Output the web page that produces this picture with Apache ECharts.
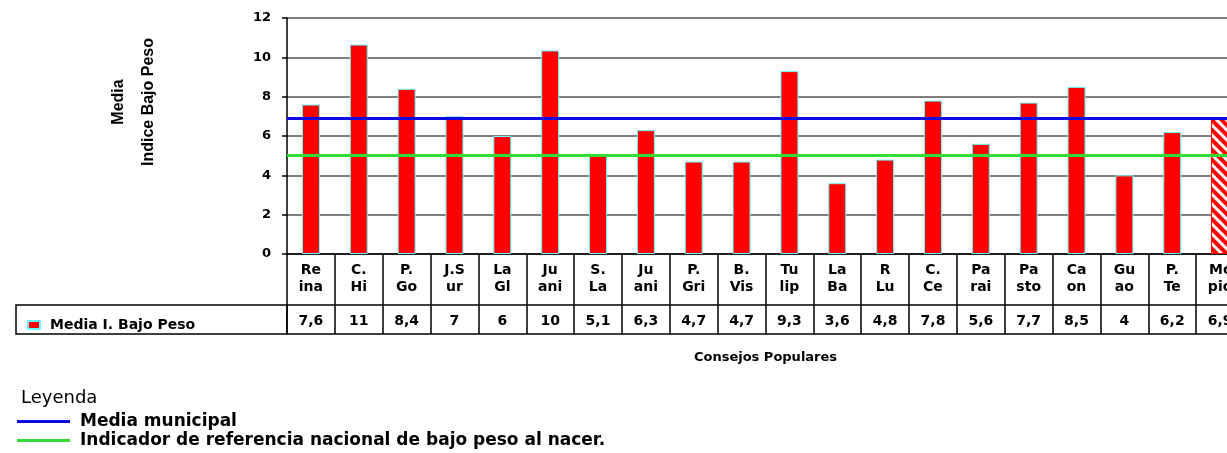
<!DOCTYPE html>
<html>
<head>
<meta charset="utf-8">
<script src="https://cdn.jsdelivr.net/npm/echarts@6/dist/echarts.min.js"></script>
<style>
  html, body { margin: 0; padding: 0; background: #fff; }
  #main { width: 1227px; height: 453px; }
</style>
</head>
<body>
<div id="main"></div>
<script>
// consejos populares (etiquetas partidas como en la tabla)
const categorias = ['Re\nina', 'C.\nHi', 'P.\nGo', 'J.S\nur', 'La\nGl', 'Ju\nani', 'S.\nLa', 'Ju\nani', 'P.\nGri', 'B.\nVis',
  'Tu\nlip', 'La\nBa', 'R\nLu', 'C.\nCe', 'Pa\nrai', 'Pa\nsto', 'Ca\non', 'Gu\nao', 'P.\nTe', 'Mc\npio'];
// altura de las barras
const mediaBajoPeso = [7.6, 10.65, 8.4, 7.0, 6.0, 10.35, 5.0, 6.3, 4.7, 4.7, 9.3, 3.6, 4.8, 7.8, 5.6, 7.7, 8.5, 4.0, 6.2, 6.9];
// valores que se leen en la tabla de datos
const tablaValores = ['7,6', '11', '8,4', '7', '6', '10', '5,1', '6,3', '4,7', '4,7', '9,3', '3,6', '4,8', '7,8', '5,6', '7,7', '8,5', '4', '6,2', '6,9'];
const mediaMunicipal = 6.9;
const referenciaNacional = 5;

const nombreSerie = 'Media I. Bajo Peso';
const nombreMunicipal = 'Media municipal';
const nombreNacional = 'Indicador de referencia nacional de bajo peso al nacer.';

const fuente = 'DejaVu Sans';
const negro = '#000';

var chart = echarts.init(document.getElementById('main'));

var option = {
  animation: false,
  grid: { left: 287, top: 18, width: 957, height: 236, outerBoundsMode: 'none' },
  title: {
    text: 'Leyenda', left: 16, top: 384,
    textStyle: { fontFamily: fuente, fontSize: 18, fontWeight: 'normal', color: negro }
  },
  legend: [
    {
      data: [nombreSerie], left: 22, top: 313, icon: 'rect', itemWidth: 12, itemHeight: 8,
      textStyle: { fontFamily: fuente, fontSize: 14, fontWeight: 'bold', color: negro, padding: [0, 0, 0, 5] }
    },
    {
      data: [nombreMunicipal, nombreNacional], orient: 'vertical', left: 17, top: 412,
      icon: 'rect', itemWidth: 53, itemHeight: 3, itemGap: 0, padding: 0,
      textStyle: { fontFamily: fuente, fontSize: 17, lineHeight: 19, fontWeight: 'bold', color: negro, padding: [0, 0, 0, 5] }
    }
  ],
  xAxis: [
    {
      type: 'category', data: categorias, position: 'bottom',
      axisLine: { lineStyle: { color: negro, width: 1.5 } },
      axisTick: { show: true, interval: 0, alignWithLabel: false, length: 51, lineStyle: { color: negro, width: 1.5 } },
      axisLabel: { interval: 0, margin: 8, lineHeight: 17, fontFamily: fuente, fontSize: 14, fontWeight: 'bold', color: negro }
    },
    {
      type: 'category', data: categorias, position: 'bottom', offset: 51,
      axisLine: { lineStyle: { color: negro, width: 1.5 } },
      axisTick: { show: true, interval: 0, alignWithLabel: false, length: 29, lineStyle: { color: negro, width: 1.5 } },
      axisLabel: {
        interval: 0, margin: 9, fontFamily: fuente, fontSize: 14, fontWeight: 'bold', color: negro,
        formatter: function (v, i) { return tablaValores[i]; }
      },
      name: 'Consejos Populares', nameLocation: 'middle', nameGap: 46,
      nameTextStyle: { fontFamily: fuente, fontSize: 13, fontWeight: 'bold', color: negro }
    },
    {
      type: 'category', data: categorias, position: 'bottom', offset: 80,
      axisLine: { lineStyle: { color: negro, width: 1.5 } },
      axisTick: { show: false }, axisLabel: { show: false }
    }
  ],
  yAxis: {
    type: 'value', min: 0, max: 12, interval: 2,
    axisLine: { show: true, lineStyle: { color: negro, width: 1.5 } },
    axisTick: { show: true, length: 5, lineStyle: { color: negro, width: 1.5 } },
    axisLabel: { margin: 16, fontFamily: fuente, fontSize: 13, fontWeight: 'bold', color: negro },
    splitLine: { lineStyle: { color: '#555', width: 1.5 } }
  },
  graphic: [
    {
      type: 'rect', shape: { x: 16, y: 305, width: 271, height: 29 },
      style: { fill: 'none', stroke: negro, lineWidth: 1.5 }
    },
    {
      type: 'text', x: 134, y: 102, rotation: Math.PI / 2,
      style: {
        text: 'Media\nIndice Bajo Peso', align: 'center', verticalAlign: 'middle',
        font: 'bold 16px "Liberation Sans Narrow", "Liberation Sans", sans-serif',
        lineHeight: 30, fill: negro
      }
    }
  ],
  series: [
    {
      type: 'bar', name: nombreSerie, barWidth: 18,
      itemStyle: { color: '#ff0000', borderColor: '#66ffff', borderWidth: 1 },
      data: mediaBajoPeso.map(function (v, i) {
        if (i === mediaBajoPeso.length - 1) {
          return {
            value: v,
            itemStyle: {
              borderColor: '#ff0000',
              decal: { symbol: 'rect', symbolSize: 1, color: '#ffffff', dashArrayX: [1, 0], dashArrayY: [3, 4], rotation: Math.PI / 4 }
            }
          };
        }
        return v;
      })
    },
    {
      type: 'line', name: nombreMunicipal, data: [], color: '#0a0ae0',
      markLine: {
        silent: true, symbol: 'none', label: { show: false },
        lineStyle: { color: '#0a0ae0', width: 3, type: 'solid' },
        data: [{ yAxis: mediaMunicipal }]
      }
    },
    {
      type: 'line', name: nombreNacional, data: [], color: '#33dd33',
      markLine: {
        silent: true, symbol: 'none', label: { show: false },
        lineStyle: { color: '#33dd33', width: 3, type: 'solid' },
        data: [{ yAxis: referenciaNacional }]
      }
    }
  ]
};

chart.setOption(option);
</script>
</body>
</html>
